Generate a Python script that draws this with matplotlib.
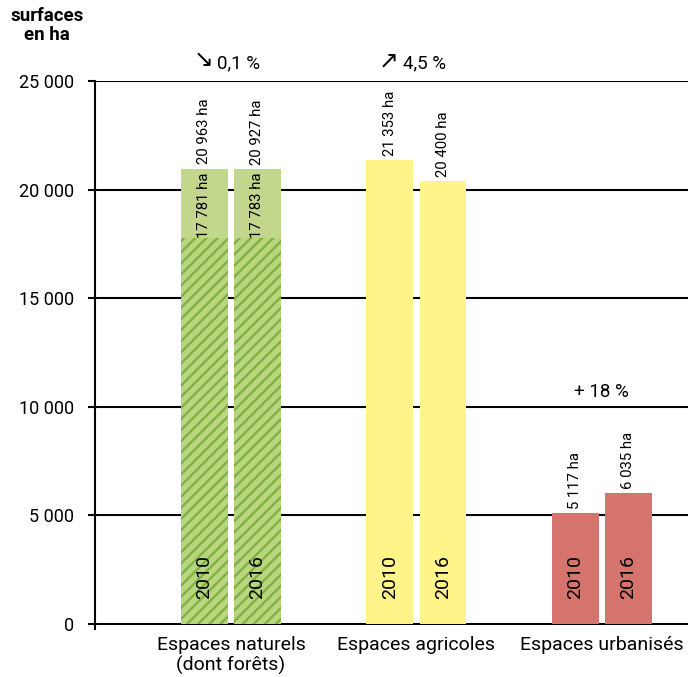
import matplotlib
matplotlib.use('Agg')
import matplotlib.pyplot as plt
import numpy as np

plt.rcParams['font.family'] = ['Roboto', 'DejaVu Sans']
plt.rcParams['hatch.linewidth'] = 1.7

# data
categories = ['Espaces naturels\n(dont forêts)', 'Espaces agricoles', 'Espaces urbanisés']
years = ['2010', '2016']
totals_2010 = [20963, 21353, 5117]
totals_2016 = [20927, 20400, 6035]
forest = [17781, 17783]  # part "forêts" of espaces naturels, 2010 / 2016
arrows = ['\u2198', '\u2197']
changes = ['0,1 %', '4,5 %', '+ 18 %']
y_ticks = [0, 5000, 10000, 15000, 20000, 25000]

colors = ['#c2d78b', '#fff48a', '#d5746c']
hatch_bg = '#b9d67f'
hatch_fg = '#7fb241'


def fmt(v):
    return f'{v:,}'.replace(',', ' ')


fig = plt.figure(figsize=(6.88, 6.77), dpi=100)
ax = fig.add_axes([95 / 688, 1 - 629 / 677, 1 - 95 / 688, 548 / 677])

x = np.arange(len(categories))
w = 0.253
off = 0.143

for yv in y_ticks:
    ax.axhline(yv, color='black', lw=1.5, zorder=1)

for i, (xi, col) in enumerate(zip(x, colors)):
    vals = [totals_2010[i], totals_2016[i]]
    for j, (dx, v) in enumerate(zip([-off, off], vals)):
        ax.bar(xi + dx, v, width=w, color=col, zorder=2)
        if i == 0:
            ax.bar(xi + dx, forest[j], width=w, color=hatch_bg, edgecolor=hatch_fg,
                   hatch='///', lw=0, zorder=3)
            ax.text(xi + dx, forest[j], fmt(forest[j]) + ' ha', rotation=90,
                    ha='center', va='bottom', fontsize=10.7, zorder=5)
        ax.text(xi + dx, v + 200, fmt(v) + ' ha', rotation=90,
                ha='center', va='bottom', fontsize=10.7, zorder=5)
        ax.text(xi + dx, 1150, years[j], rotation=90, ha='center', va='bottom',
                fontsize=14, zorder=5)

# evolution labels
for i in range(2):
    ax.annotate(arrows[i], (x[i], 25400), xytext=(-20, 0), textcoords='offset points',
                ha='center', va='bottom', fontsize=17, family='DejaVu Sans',
                annotation_clip=False)
    ax.annotate(changes[i], (x[i], 25400), xytext=(-10, 0), textcoords='offset points',
                ha='left', va='bottom', fontsize=13.5, annotation_clip=False)
ax.text(x[2], 10250, changes[2], ha='center', va='bottom', fontsize=13.5)

ax.set_xlim(-0.733, 2.464)
ax.set_ylim(-230, 25000)
ax.set_yticks(y_ticks)
ax.set_yticklabels([fmt(t) for t in y_ticks], fontsize=13)
ax.tick_params(axis='y', length=5, width=1.5, pad=10)
ax.set_xticks(x)
ax.set_xticklabels(categories, fontsize=14, linespacing=1.15)
ax.tick_params(axis='x', length=0, pad=5)

for s in ['top', 'right', 'bottom']:
    ax.spines[s].set_visible(False)
ax.spines['left'].set_linewidth(1.5)

fig.text(47 / 688, 1 - 7 / 677, 'surfaces\nen ha', ha='center', va='top',
         fontsize=13.5, fontweight='bold', linespacing=1.1)

fig.savefig('out.png', dpi=100)
